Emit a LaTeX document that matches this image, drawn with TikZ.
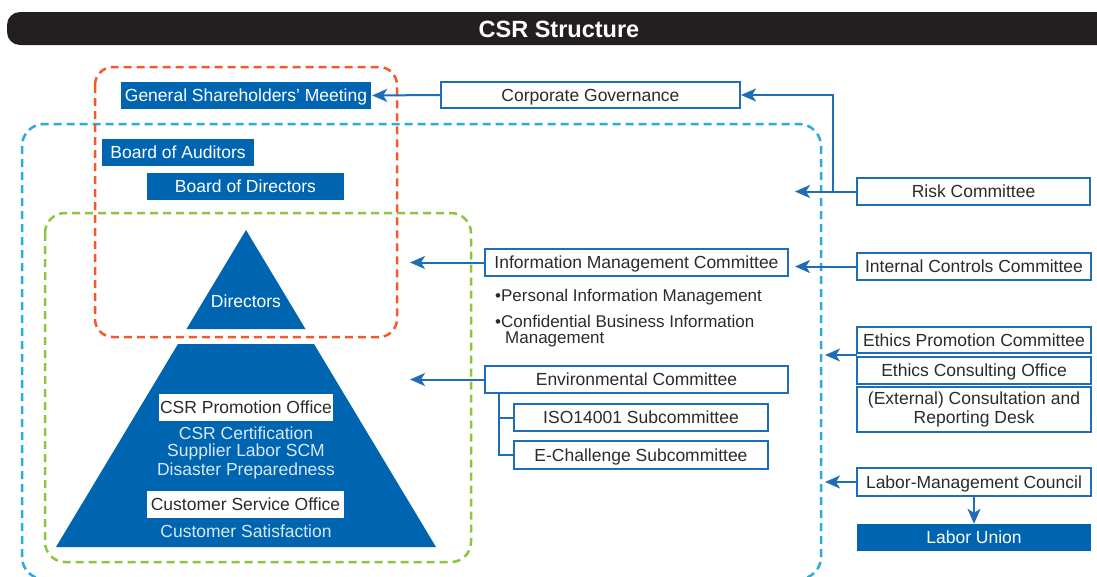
\documentclass[tikz,border=0pt]{standalone}
\usepackage{fontspec}
\setmainfont{Liberation Sans}
\usetikzlibrary{arrows.meta}
\definecolor{cblue}{HTML}{0065B1}
\definecolor{lblue}{HTML}{1F6DB7}
\definecolor{dred}{HTML}{EF5B2B}
\definecolor{dcyan}{HTML}{2AAAE1}
\definecolor{dgreen}{HTML}{8CC63F}
\definecolor{tbar}{HTML}{231F20}
\definecolor{txt}{HTML}{2B2B2B}
\definecolor{pale}{HTML}{D8E8F6}
\begin{document}
\begin{tikzpicture}[x=1pt,y=-1pt,
  lbl/.style={font=\fontsize{17.5}{20}\selectfont},
  one/.style={text height=12.4pt, text depth=0pt},
  fbox/.style={lbl, one, fill=cblue, text=white, inner sep=0pt, minimum height=27pt},
  obox/.style={lbl, draw=lblue, line width=2pt, fill=white, text=txt, inner sep=0pt, minimum height=27pt, align=center},
  wbox/.style={lbl, one, fill=white, text=txt, inner sep=0pt, minimum height=27pt},
  paletext/.style={lbl, text=pale, inner sep=0pt},
  bullet/.style={font=\fontsize{17}{19}\selectfont, text=txt, inner sep=0pt, anchor=west},
  arr/.style={draw=lblue, line width=2pt, -{Stealth[length=15pt,width=13pt,inset=4pt]}},
  brk/.style={draw=lblue, line width=2pt},
  dbox/.style={line width=2.5pt, dash pattern=on 8pt off 5pt},
]
\useasboundingbox (0,0) rectangle (1097,576);
\begin{scope}
\clip (0,0) rectangle (1097,576);
% title bar
\fill[tbar, rounded corners=13pt] (7,12) rectangle (1130,45);
\node[text=white, font=\fontsize{23.5}{26}\selectfont\bfseries, inner sep=0pt] (title) at (559,29) {CSR Structure};
% dashed regions
\draw[dbox, dcyan, rounded corners=22pt] (22,124) rectangle (821,579);
\draw[dbox, dgreen, rounded corners=20pt] (45,213) rectangle (471,562);
\draw[dbox, dred, rounded corners=18pt] (95,67) rectangle (397,337);
\end{scope}

% pyramid
\fill[cblue] (246,230) -- (305.5,329) -- (186.5,329) -- cycle;
\fill[cblue] (178,344) -- (314,344) -- (436,547) -- (56,547) -- cycle;
\node[lbl, one, text=white, inner sep=0pt] (dir) at (246,301) {Directors};
\node[wbox, minimum width=174pt] (cpo) at (246,407.5) {CSR Promotion Office};
\node[paletext] (t1) at (246,433) {CSR Certification};
\node[paletext] (t2) at (246,452) {Supplier Labor SCM};
\node[paletext] (t3) at (246,471) {Disaster Preparedness};
\node[wbox, minimum width=197pt] (cso) at (245.5,504.5) {Customer Service Office};
\node[paletext] (t4) at (246,531) {Customer Satisfaction};

% left column filled boxes
\node[fbox, minimum width=250pt] (gsm) at (246,95.5) {General Shareholders’ Meeting};
\node[fbox, minimum width=152pt] (boa) at (178,152.5) {Board of Auditors};
\node[fbox, minimum width=197pt] (bod) at (245.5,186.5) {Board of Directors};

% middle boxes
\node[obox, one, minimum width=299pt, minimum height=26pt] (cg) at (590.5,95) {Corporate Governance};
\node[obox, one, minimum width=303pt] (imc) at (636.5,262.5) {Information Management Committee};
\node[bullet] (b1) at (495,297) {•Personal Information Management};
\node[bullet] (b2) at (495,321) {•Confidential Business Information};
\node[bullet] (b3) at (505,339) {Management};
\node[obox, one, minimum width=303pt] (env) at (636.5,379.5) {Environmental Committee};
\node[obox, one, minimum width=254pt] (iso) at (641,417.5) {ISO14001 Subcommittee};
\node[obox, one, minimum width=254pt, minimum height=28pt] (ech) at (641,455) {E-Challenge Subcommittee};

% right column
\node[obox, one, minimum width=233pt] (risk) at (973.5,191.5) {Risk Committee};
\node[obox, one, minimum width=234pt] (icc) at (974,266.5) {Internal Controls Committee};
\node[obox, one, minimum width=234pt, minimum height=26pt] (epc) at (974,340) {Ethics Promotion Committee};
\node[obox, one, minimum width=234pt] (eco) at (974,370.5) {Ethics Consulting Office};
\node[obox, minimum width=234pt, minimum height=45pt, font=\fontsize{17.5}{19}\selectfont] (ext) at (974,409.5) {(External) Consultation and\\Reporting Desk};
\node[obox, one, minimum width=234pt, minimum height=28pt] (lmc) at (974,482) {Labor-Management Council};
\node[fbox, minimum width=234pt] (lu) at (974,537.5) {Labor Union};

% connector coordinates
\coordinate (rj) at (833,191.5);
\coordinate (rt) at (795,191.5);
\coordinate (imct) at (410,262.5);
\coordinate (envt) at (410,379.5);
\coordinate (eb) at (499,393);
\coordinate (ej) at (857,355);
\coordinate (et) at (825,355);
\coordinate (lt) at (825,482);

% connectors
\draw[arr, shorten >=1pt] (cg.west) -- (gsm.east);
\draw[arr] (rj) |- (cg.east);
\draw[arr] (risk.west) -- (rt);
\draw[arr, shorten >=6pt] (icc.west) -- (icc.west -| imc.east);
\draw[arr] (imc.west) -- (imct);
\draw[arr] (env.west) -- (envt);
\draw[brk] (eb) |- (iso.west);
\draw[brk] (eb) |- (ech.west);
\draw[arr] (ej) -- (et);
\draw[arr] (lmc.west) -- (lt);
\draw[arr] (lmc.south) -- (lu.north);
\end{tikzpicture}
\end{document}
